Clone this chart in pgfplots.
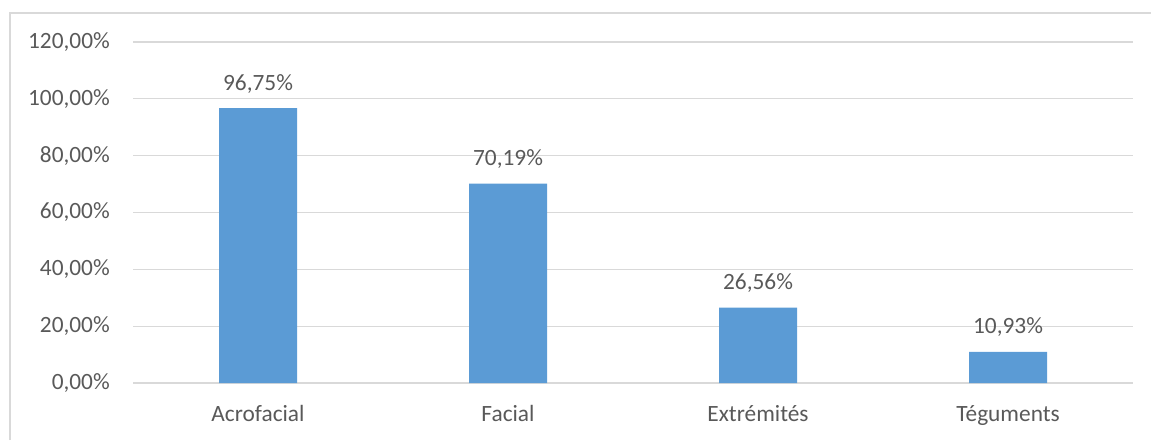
\documentclass[border=0pt]{standalone}
\usepackage{fontspec}
\setmainfont{Carlito}
\usepackage{pgfplots}
\pgfplotsset{compat=1.18}

\definecolor{barblue}{HTML}{5B9BD5}
\definecolor{gridgray}{HTML}{D9D9D9}
\definecolor{textgray}{HTML}{595959}

\begin{document}
% one unit of the drawing grid below is 0.75pt
\begin{tikzpicture}[x=0.75pt,y=0.75pt]
  \useasboundingbox (0,0) rectangle (1151,440);
  % chart frame
  \draw[gridgray, line width=1pt] (10,0) -- (10,427) -- (1151,427);
  \begin{axis}[
      at={(99.75pt,42.75pt)}, anchor=south west,
      scale only axis,
      width=750pt, height=255.75pt,
      xmin=-0.5, xmax=3.5,
      ymin=0, ymax=120,
      ytick={0,20,...,120},
      xtick={0,1,2,3},
      xticklabels={Acrofacial, Facial, Extrémités, Téguments},
      axis line style={draw=none},
      major tick length=0pt,
      ymajorgrids,
      grid style={gridgray, line width=0.9pt},
      font=\fontsize{17.5}{21}\selectfont,
      every tick label/.append style={textgray},
      /pgf/number format/assume math mode=true,
      yticklabel={\pgfmathprintnumber[fixed,fixed zerofill,precision=2,use comma]{\tick}\%},
      yticklabel style={anchor=east, inner sep=0pt, xshift=-17.25pt},
      xticklabel style={anchor=base, inner sep=0pt, yshift=-28.5pt},
      clip=false,
    ]
    \addplot[
      ybar, bar width=58.5pt, fill=barblue, draw=none,
      nodes near coords={\pgfmathprintnumber[fixed,fixed zerofill,precision=2,use comma,assume math mode=true]{\pgfplotspointmeta}\%},
      nodes near coords style={anchor=base, inner sep=0pt, yshift=13.5pt, textgray, font=\fontsize{17.5}{21}\selectfont},
    ] coordinates {(0,96.75) (1,70.19) (2,26.56) (3,10.93)};
  \end{axis}
\end{tikzpicture}
\end{document}
